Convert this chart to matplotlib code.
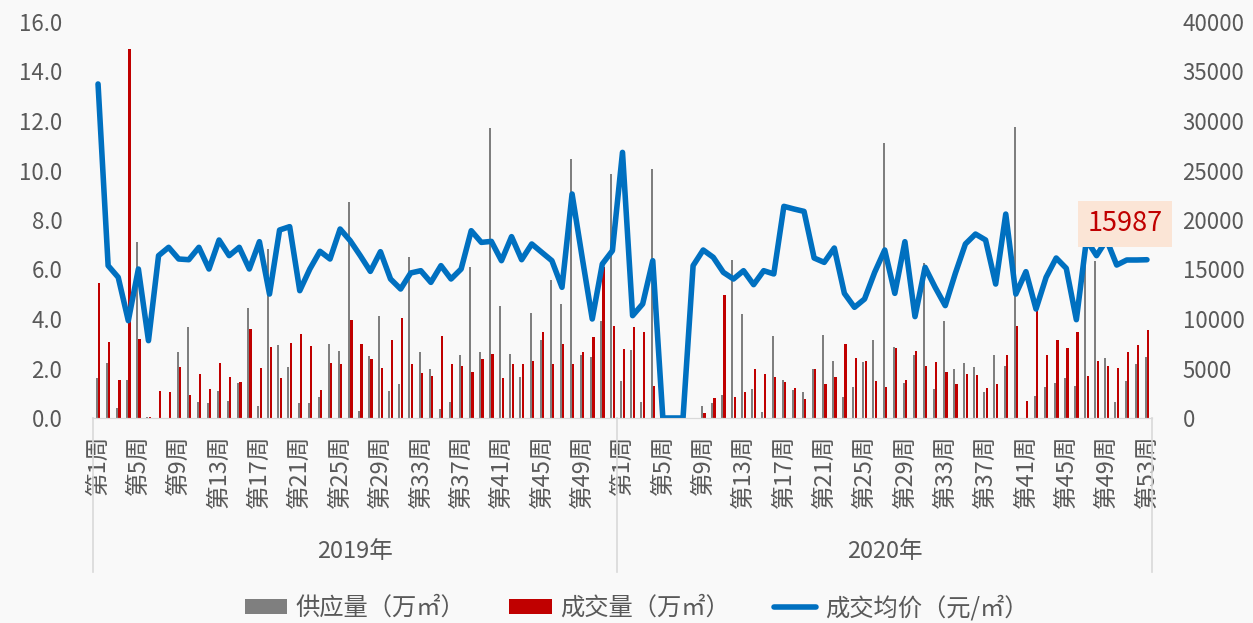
import matplotlib
matplotlib.use('Agg')
import matplotlib.pyplot as plt
import numpy as np

plt.rcParams['font.family'] = ['Noto Sans CJK SC', 'DejaVu Sans']

# 周数
weeks_2019 = list(range(1, 53))
weeks_2020 = list(range(1, 54))

# 供应量（万㎡）
supply_2019 = [1.62, 2.21, 0.42, 1.52, 7.10, 0.03, 0, 0, 2.67, 3.66,
               0.66, 0.59, 1.09, 0.70, 1.43, 4.44, 0.48, 6.83, 2.94, 2.07,
               0.61, 0.59, 0.86, 2.99, 2.71, 8.74, 0.30, 2.50, 4.12, 1.10,
               1.39, 6.52, 2.67, 1.99, 0.38, 0.63, 2.53, 6.09, 2.67, 11.72,
               4.54, 2.59, 1.67, 4.24, 3.15, 5.59, 4.61, 10.48, 2.53, 2.45,
               3.91, 9.86]
supply_2020 = [1.51, 2.76, 0.66, 10.06, 0, 0, 0, 0, 0.47, 0.62,
               0.94, 6.38, 4.22, 1.19, 0.23, 3.33, 1.52, 1.13, 1.06, 1.97,
               3.35, 2.32, 0.85, 1.27, 2.25, 3.15, 11.10, 2.88, 1.43, 2.56,
               6.26, 1.17, 3.91, 1.98, 2.24, 2.06, 1.06, 2.56, 2.11, 11.74,
               0, 0.89, 1.27, 1.40, 1.63, 1.29, 7.30, 6.36, 2.42, 0.66,
               1.51, 2.17, 2.48]

# 成交量（万㎡）
deal_2019 = [5.45, 3.06, 1.52, 14.9, 3.19, 0.03, 1.08, 1.04, 2.07, 0.93,
             1.79, 1.17, 2.24, 1.64, 1.45, 3.61, 2.02, 2.86, 1.62, 3.04,
             3.39, 2.91, 1.14, 2.24, 2.17, 3.97, 2.98, 2.38, 2.01, 3.14,
             4.04, 2.18, 1.82, 1.70, 3.33, 2.17, 2.11, 1.85, 2.38, 2.57,
             1.62, 2.17, 2.17, 2.29, 3.47, 2.17, 3.00, 2.18, 2.65, 3.29,
             6.09, 3.73]
deal_2020 = [2.79, 3.69, 3.46, 1.31, 0, 0, 0, 0, 0.19, 0.79,
             4.98, 0.85, 1.06, 1.99, 1.79, 1.67, 1.45, 1.23, 0.78, 1.98,
             1.37, 1.66, 2.99, 2.41, 2.30, 1.51, 1.27, 2.81, 1.54, 2.72,
             2.11, 2.25, 1.87, 1.39, 1.78, 1.74, 1.21, 1.39, 2.55, 3.70,
             0.69, 4.34, 2.56, 3.14, 2.81, 3.47, 1.70, 2.30, 2.11, 2.02,
             2.65, 2.95, 3.57]

# 成交均价（元/㎡）
price_2019 = [33740, 15390, 14210, 9830, 15050, 7810, 16400, 17240, 16060, 15990,
              17240, 15050, 17980, 16400, 17240, 15050, 17810, 12520, 18990, 19330,
              12860, 15050, 16840, 16060, 19090, 17910, 16400, 14810, 16800, 14040,
              13030, 14650, 14880, 13700, 15390, 14040, 15050, 18920, 17740, 17840,
              15890, 18320, 15990, 17580, 16730, 15890, 13200, 22630, 16230, 10000,
              15560, 16900]
price_2020 = [26830, 10340, 11520, 15890, 0, 0, 0, 15390, 16970, 16230,
              14710, 14040, 14880, 13470, 14880, 14550, 21380, 21110, 20870, 16160,
              15720, 17170, 12590, 11180, 12020, 14710, 16970, 12590, 17810, 10240,
              15220, 13200, 11350, 14610, 17580, 18580, 17980, 13530, 20600, 12520,
              14780, 11010, 14210, 16160, 15120, 9930, 18000, 16400, 18000, 15450,
              15960, 15960, 15987]

years = ['2019年', '2020年']

supply = supply_2019 + supply_2020
deal = deal_2019 + deal_2020
price = price_2019 + price_2020
weeks = weeks_2019 + weeks_2020
n = len(weeks)
x = np.arange(n)

txt = '#595959'
bg = '#f9f9f9'

fig = plt.figure(figsize=(12.53, 6.23), dpi=100, facecolor=bg)
ax = fig.add_axes([93 / 1253, 205 / 623, 1059 / 1253, 396 / 623])
ax.set_facecolor(bg)

b1 = ax.bar(x - 0.12, supply, width=0.2, color='#7f7f7f', label='供应量（万㎡）')
b2 = ax.bar(x + 0.12, deal, width=0.22, color='#c00000', label='成交量（万㎡）')
ax.set_xlim(-0.5, n - 0.5)
ax.set_ylim(0, 16)
ax.set_yticks(np.arange(0, 17, 2))
ax.set_yticklabels([f'{v:.1f}' for v in np.arange(0, 17, 2)])

ax2 = ax.twinx()
l1, = ax2.plot(x, price, color='#0070c0', lw=4, solid_joinstyle='round',
               solid_capstyle='round', label='成交均价（元/㎡）')
ax2.set_ylim(0, 40000)
ax2.set_yticks(np.arange(0, 40001, 5000))

for a in (ax, ax2):
    for s in ('top', 'left', 'right'):
        a.spines[s].set_visible(False)
    a.spines['bottom'].set_color('#d9d9d9')
    a.tick_params(axis='y', length=0, labelsize=16, labelcolor=txt)
ax.tick_params(axis='y', pad=22)
ax2.tick_params(axis='y', pad=22)

# 横轴: 每4周一个标签
pos = [i for i in range(n) if (weeks[i] - 1) % 4 == 0]
ax.set_xticks(pos)
ax.set_xticklabels([f'第{weeks[i]}周' for i in pos], rotation=90, va='top')
ax.tick_params(axis='x', length=0, pad=12, labelsize=17, labelcolor=txt)

# 年份分组
start = 0
for yr, wk in zip(years, [weeks_2019, weeks_2020]):
    end = start + len(wk)
    ax.text((start + end - 1) / 2, -0.336, yr, transform=ax.get_xaxis_transform(),
            ha='center', va='center', fontsize=17, color=txt)
    start = end
for b in (0, len(weeks_2019), n):
    ax.plot([b - 0.5, b - 0.5], [0, -0.39], transform=ax.get_xaxis_transform(),
            color='#d9d9d9', lw=1.2, clip_on=False)

# 最后一周数据标签
ax2.annotate(f'{price[-1]}', xy=(x[-1], price[-1]), xytext=(-16, 26),
             textcoords='offset points', ha='center', va='center',
             fontsize=19.5, color='#c00000', annotation_clip=False,
             bbox=dict(boxstyle='square,pad=0.35', facecolor='#fbe5d6', edgecolor='none'))

fig.legend(handles=[b1, b2, l1], loc='center', bbox_to_anchor=(0.508, 0.024),
           ncol=3, frameon=False, fontsize=17.5, labelcolor=txt,
           handlelength=1.75, handleheight=0.6, handletextpad=0.35, columnspacing=1.8)

fig.savefig('out.png', dpi=100, facecolor=bg)
